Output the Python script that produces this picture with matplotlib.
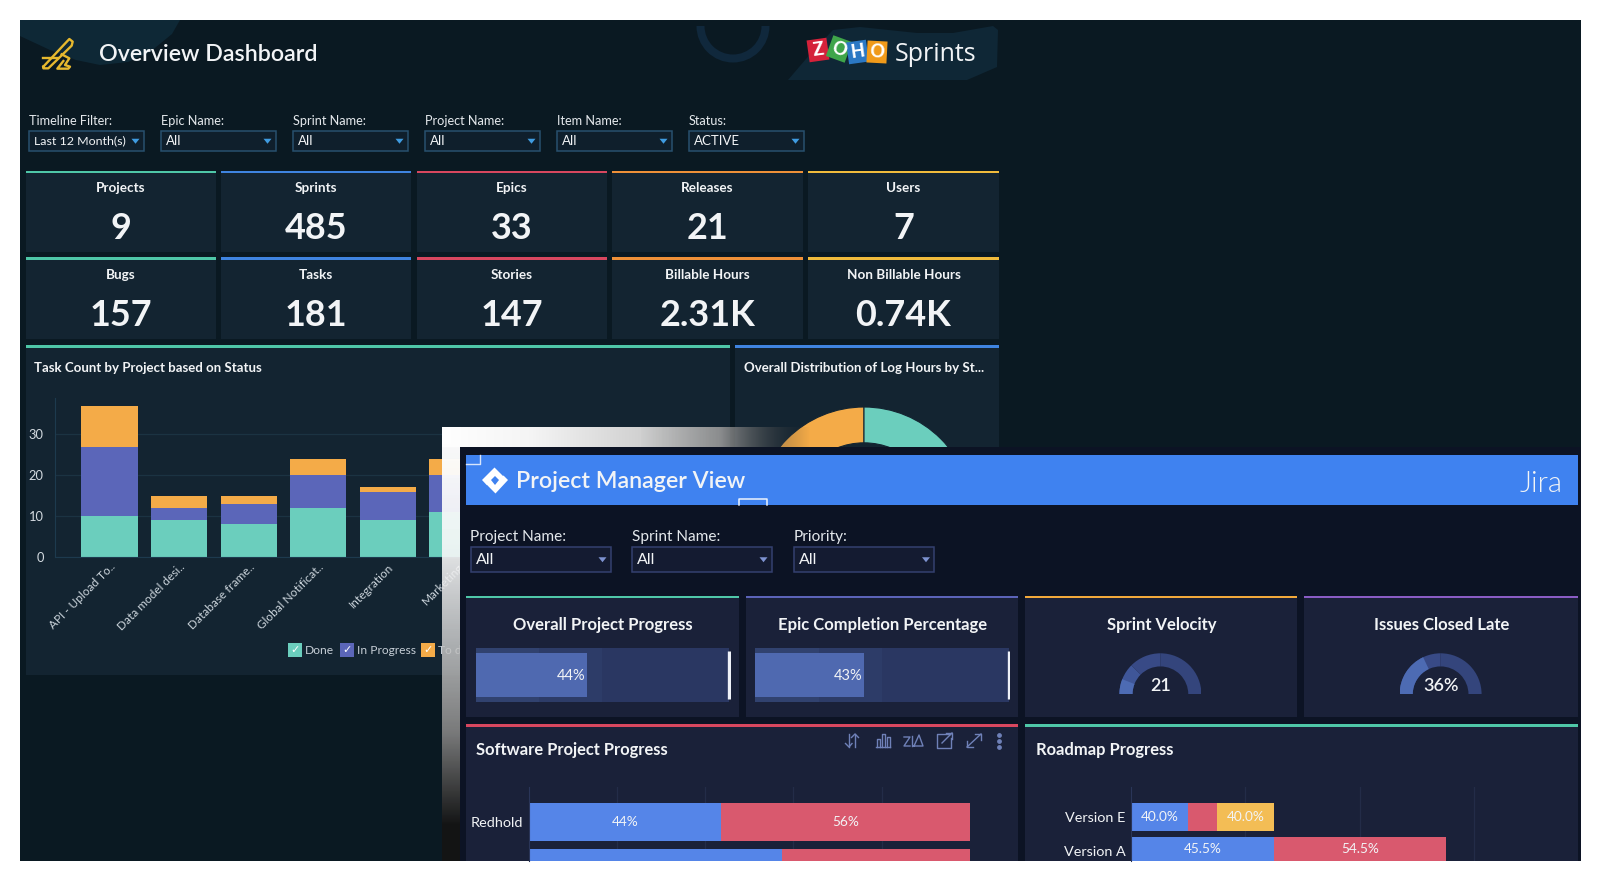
"""Zoho Sprints / Jira dashboard composite, pixel layout on a 1600x882 canvas."""

import numpy as np
import matplotlib
matplotlib.use('Agg')
import matplotlib.pyplot as plt
from matplotlib.patches import Rectangle, Polygon, Wedge

plt.rcParams['font.family'] = ['Lato', 'DejaVu Sans']

W, H = 1600, 882

# --- data ---
kpi_top = ['Projects', 'Sprints', 'Epics', 'Releases', 'Users']
kpi_top_values = ['9', '485', '33', '21', '7']
kpi_bottom = ['Bugs', 'Tasks', 'Stories', 'Billable Hours', 'Non Billable Hours']
kpi_bottom_values = ['157', '181', '147', '2.31K', '0.74K']

filter_names = ['Timeline Filter:', 'Epic Name:', 'Sprint Name:', 'Project Name:', 'Item Name:', 'Status:']
filter_values = ['Last 12 Month(s)', 'All', 'All', 'All', 'All', 'ACTIVE']

task_projects = ['API - Upload To..', 'Data model desi..', 'Database frame..',
                 'Global Notificat..', 'Integration', 'Marketing']
task_done = [10, 9, 8, 12, 9, 11]
task_progress = [17, 3, 5, 8, 7, 9]
task_todo = [10, 3, 2, 4, 1, 4]
task_legend = ['Done', 'In Progress', 'To do']

log_hours_share = [50, 50]

pm_filter_names = ['Project Name:', 'Sprint Name:', 'Priority:']
pm_filter_values = ['All', 'All', 'All']

bullet_titles = ['Overall Project Progress', 'Epic Completion Percentage']
bullet_values = [44, 43]
bullet_bands = [25, 25, 50]

gauge_titles = ['Sprint Velocity', 'Issues Closed Late']
gauge_labels = ['21', '36%']
gauge_fill = [12, 36]

software_projects = ['Redhold', '']
software_done = [43.6, 57.5]
software_left = [56.4, 42.5]
software_done_labels = ['44%', '']
software_left_labels = ['56%', '']

roadmap_versions = ['Version E', 'Version A']
roadmap_blue = [2, 5]
roadmap_red = [1, 6]
roadmap_yellow = [2, 0]
roadmap_blue_labels = ['40.0%', '45.5%']
roadmap_red_labels = ['', '54.5%']
roadmap_yellow_labels = ['40.0%', '']

# --- colours ---
TEAL = '#4fc7a8'
BLUE = '#3f84e0'
RED = '#d8475f'
ORANGE = '#ee9038'
YELLOW = '#f0bb3c'
BG_TOP = '#0a1922'
PANEL_TOP = '#132431'
BG_PM = '#0c1324'
PANEL_PM = '#1a2139'
BAR_TEAL = '#6bcebd'
BAR_INDIGO = '#5b66b9'
BAR_ORANGE = '#f4ab48'
TXT = '#f2f4f6'

fig = plt.figure(figsize=(W / 100, H / 100), dpi=100, facecolor='white')


def canvas(z):
    ax = fig.add_axes([0, 0, 1, 1], zorder=z)
    ax.set_xlim(0, W)
    ax.set_ylim(H, 0)
    ax.axis('off')
    ax.patch.set_alpha(0)
    return ax


def inset(x0, y0, x1, y1, z=3):
    ax = fig.add_axes([x0 / W, 1 - y1 / H, (x1 - x0) / W, (y1 - y0) / H], zorder=z)
    ax.patch.set_alpha(0)
    return ax


def rect(ax, x0, y0, x1, y1, color, **kw):
    ax.add_patch(Rectangle((x0, y0), x1 - x0, y1 - y0, facecolor=color, edgecolor='none', **kw))


def label(ax, x, y, s, px=14, color=TXT, ha='left', weight='normal', **kw):
    ax.text(x, y + 1.5, s, fontsize=px * 0.72, color=color, ha=ha, va='center', fontweight=weight, **kw)


def panel(ax, x0, y0, x1, y1, line, fill):
    rect(ax, x0, y0, x1, y1, fill)
    rect(ax, x0, y0, x1, y0 + 2.6, line)


def dropdown(ax, x0, y0, x1, y1, text, edge, fill, arrow, px):
    ax.add_patch(Rectangle((x0, y0), x1 - x0, y1 - y0, facecolor=fill, edgecolor=edge, linewidth=1.1))
    label(ax, x0 + 5, (y0 + y1) / 2 - 1, text, px=px)
    ax.add_patch(Polygon([(x1 - 12, (y0 + y1) / 2 - 2), (x1 - 4, (y0 + y1) / 2 - 2),
                          (x1 - 8, (y0 + y1) / 2 + 3)], facecolor=arrow))


back = canvas(0)
rect(back, 20, 20, 1581, 861, BG_TOP)

# soft shapes in the header
back.add_patch(Polygon([(20, 20), (180, 20), (172, 34), (150, 52), (128, 62), (100, 65), (76, 60),
                        (50, 50), (20, 36)], facecolor='#0e2836'))
back.add_patch(Polygon([(788, 80), (812, 52), (833, 30), (860, 27), (917, 33), (953, 33), (993, 26),
                        (998, 30), (997, 67), (967, 80)], facecolor='#0f2736'))
back.add_patch(Wedge((733, 26), 36.5, 0, 180, width=8, facecolor='#10283c'))

# plane icon
plane_body = np.array([(40, 125), (118, 42), (128, 50), (125, 62), (55, 130), (40, 130), (40, 125)]) / 3 + (30, 25)
plane_wing = np.array([(40, 100), (85, 100)]) / 3 + (30, 25)
plane_fin = np.array([(95, 88), (118, 100), (105, 120), (120, 125), (115, 131), (82, 131), (100, 108)]) / 3 + (30, 25)
for pts in (plane_body, plane_wing, plane_fin):
    back.plot(pts[:, 0], pts[:, 1], color='#e6b82e', lw=1.7, solid_joinstyle='round')

label(back, 99, 53, 'Overview Dashboard', px=23.3, weight=600)

# Zoho logo blocks
for letter, cx, cy, col, ang in zip('ZOHO', [818, 839, 857.5, 877], [50, 49, 52, 52],
                                    ['#d5213a', '#3fa54a', '#2b78c4', '#f09a1a'], [-8, 20, -8, 3]):
    t = np.deg2rad(ang)
    sq = np.array([(-10, -11), (10, -11), (10, 11), (-10, 11)])
    rot = np.array([[np.cos(t), -np.sin(t)], [np.sin(t), np.cos(t)]])
    back.add_patch(Polygon(sq @ rot.T + (cx, cy), facecolor=col))
    back.text(cx, cy, letter, color='white', fontsize=13, fontweight='black', ha='center', va='center',
              rotation=-ang)
label(back, 895, 53, 'Sprints', px=25, family='Open Sans', weight=500)

# top filters
top_filter_x = [29, 161, 293, 425, 557, 689]
for x, name, val in zip(top_filter_x, filter_names, filter_values):
    label(back, x, 119.5, name, px=12.7, color='#e4e8ec')
    dropdown(back, x, 130.5, x + 114.5, 151, val, '#28506e', '#0f1f2c', '#3f9be0', 12.4 if len(val) > 10 else 13.2)

# KPI tiles
kpi_x = [(25.5, 216), (221, 411), (417, 607), (612, 803), (808, 999)]
kpi_colors = [TEAL, BLUE, RED, ORANGE, YELLOW]
for (y0, y1, names, vals) in [(170.5, 252, kpi_top, kpi_top_values), (257, 339, kpi_bottom, kpi_bottom_values)]:
    for (x0, x1), c, n, v in zip(kpi_x, kpi_colors, names, vals):
        panel(back, x0, y0, x1, y1, c, PANEL_TOP)
        label(back, (x0 + x1) / 2, y0 + 16.5, n, px=13.5, ha='center', weight='bold')
        label(back, (x0 + x1) / 2, y0 + 56.5, v, px=36, ha='center', weight='bold')

# chart panels
panel(back, 25.5, 345, 730, 675, TEAL, PANEL_TOP)
label(back, 34, 366.5, 'Task Count by Project based on Status', px=13.2, weight='bold')
panel(back, 735, 345, 999, 675, BLUE, PANEL_TOP)
label(back, 744, 366.5, 'Overall Distribution of Log Hours by St...', px=13.2, weight='bold')

# stacked bars, behind the overlay card
ax_task = inset(55, 398, 460, 557, z=1)
xpos = np.arange(len(task_projects))
done = np.array(task_done)
prog = np.array(task_progress)
todo = np.array(task_todo)
ax_task.bar(xpos, done, width=0.81, color=BAR_TEAL, zorder=2)
ax_task.bar(xpos, prog, width=0.81, bottom=done, color=BAR_INDIGO, zorder=2)
ax_task.bar(xpos, todo, width=0.81, bottom=done + prog, color=BAR_ORANGE, zorder=2)
ax_task.set_xlim(-0.783, (460 - 55) / 69.6 - 0.783)
ax_task.set_ylim(0, 159 / 4.09)
ax_task.set_yticks([0, 10, 20, 30])
ax_task.set_xticks(xpos)
ax_task.set_xticklabels(task_projects, rotation=45, ha='right', rotation_mode='anchor',
                        fontsize=8.5, color='#ccd5dc')
ax_task.tick_params(axis='y', length=0, labelsize=9.3, labelcolor='#d3dae0', pad=8)
ax_task.tick_params(axis='x', length=0, pad=3)
ax_task.grid(axis='y', color='#1b3342', lw=0.9, zorder=0)
for s in ('top', 'right'):
    ax_task.spines[s].set_visible(False)
ax_task.spines['left'].set_color('#1d3a4e')
ax_task.spines['bottom'].set_color('#1d3a4e')

# legend of the bar chart
legend_base = canvas(1.5)
legend_box_x = [287.7, 339.7, 421]
for x, name, c in zip(legend_box_x, task_legend, [BAR_TEAL, BAR_INDIGO, BAR_ORANGE]):
    rect(legend_base, x, 643, x + 14, 657, c)
    legend_base.text(x + 7, 650, '\u2713', color='white', fontsize=8, ha='center', va='center',
                     family='DejaVu Sans')
    label(legend_base, x + 17, 649.5, name, px=12, color='#c6ced6')

# donut, mostly hidden by the overlay card
ax_pie = inset(755.4, 407, 972.6, 624.2, z=1)
ax_pie.pie(log_hours_share, colors=[BAR_ORANGE, BAR_TEAL], startangle=90, radius=1,
           wedgeprops=dict(width=0.33, edgecolor=PANEL_TOP, linewidth=0.8))
ax_pie.set_xlim(-1, 1)
ax_pie.set_ylim(-1, 1)

# --- overlay card ---
front = canvas(2)
stops = [441.5, 530, 640, 720, 810]
xs = np.linspace(441.5, 841.5, 400)
top_band = np.zeros((1, 400, 4))
top_band[..., :3] = np.interp(xs, stops, [1, 0.96, 0.82, 0.6, 0.15])[None, :, None]
top_band[..., 3] = np.interp(xs, stops, [1, 1, 1, 0.9, 0])[None, :]
front.imshow(top_band, extent=(441.5, 841.5, 447, 427), aspect='auto', zorder=0.5)

ys = np.linspace(427, 861, 400)
ystops = [427, 556, 633, 733, 825]
left_band = np.zeros((400, 1, 4))
left_band[..., :3] = np.interp(ys, ystops, [1, 0.97, 0.82, 0.5, 0.08])[:, None, None]
left_band[..., 3] = np.interp(ys, ystops, [1, 0.9, 0.84, 0.95, 0.95])[:, None]
front.imshow(left_band, extent=(441.5, 460, 861, 427), aspect='auto', zorder=0.5)
front.set_xlim(0, W)
front.set_ylim(H, 0)

rect(front, 460, 447, 1581, 861, BG_PM, zorder=0.6)
rect(front, 465.6, 455, 1577.6, 505, '#3f82f0', zorder=0.7)
front.plot([466, 480, 480], [464, 464, 455], color='white', lw=1, alpha=0.8, zorder=0.8)
front.plot([739, 739, 767, 767], [505, 499, 499, 505], color='white', lw=1.1, alpha=0.9, zorder=0.8)

# Jira mark
front.add_patch(Polygon([(495, 467), (508, 480), (495, 494), (482, 480)], facecolor='white', zorder=2))
front.add_patch(Polygon([(495, 476), (499, 480), (495, 485), (491, 480)], facecolor='#3f82f0', zorder=2.1))
front.plot([495, 503], [467, 475], color='#3f82f0', lw=1, zorder=2.1)
front.plot([487, 495], [486, 494], color='#3f82f0', lw=1, zorder=2.1)
label(front, 516, 480, 'Project Manager View', px=23.3, weight=600)
label(front, 1563, 482, 'Jira', px=29, ha='right', weight=300)

for x, name, val in zip([470.5, 631.5, 794], pm_filter_names, pm_filter_values):
    label(front, x, 535, name, px=15.4, color='#e4e8ec')
    dropdown(front, x, 547, x + 140, 571.5, val, '#34406f', '#141b31', '#7d92d0', 16)

# tiles of the overlay card
pm_x = [(465.6, 739), (745.7, 1018), (1025, 1297), (1303.6, 1577.6)]
pm_colors = [TEAL, '#5b63b8', '#f2a93b', '#8a5cc4']
pm_titles = bullet_titles + gauge_titles
for (x0, x1), c, t in zip(pm_x, pm_colors, pm_titles):
    panel(front, x0, 595.7, x1, 716.7, c, PANEL_PM)
    label(front, (x0 + x1) / 2 + 1, 623.5, t, px=16.6, ha='center', weight='bold')

# bullet bars
band_colors = ['#31426f', '#2d3c68', '#2a3762']
for x0, val in zip([475.5, 755.3], bullet_values):
    ax = inset(x0, 648, x0 + 255, 702)
    left = 0
    for width, c in zip(bullet_bands, band_colors):
        ax.barh(0, width, left=left, height=2, color=c)
        left += width
    ax.barh(0, val, height=1.63, color='#4f69b0')
    ax.plot([100, 100], [-0.89, 0.89], color='#eef1f8', lw=2.4, solid_capstyle='butt')
    ax.text(val - 0.6, -0.03, f'{val}%', color=TXT, fontsize=10.5, ha='right', va='center')
    ax.set_xlim(0, 100.6)
    ax.set_ylim(-1, 1)
    ax.axis('off')

# half gauges
for cx, fill, text in zip([1160.4, 1440.6], gauge_fill, gauge_labels):
    ax = inset(cx - 41, 653.3, cx + 41, 694.3)
    start = 0
    for width, c in zip(bullet_bands, ['#3f5698', '#384a86', '#34457c']):
        ax.add_patch(Wedge((0, 0), 1, 180 - 1.8 * (start + width), 180 - 1.8 * start, width=0.32,
                           facecolor=c))
        start += width
    ax.add_patch(Wedge((0, 0), 1, 180 - 1.8 * fill, 180, width=0.32, facecolor='#4d6bb3'))
    ax.text(0, 0.2, text, color=TXT, fontsize=13, ha='center', va='center', fontweight=600)
    ax.set_xlim(-1, 1)
    ax.set_ylim(0, 1)
    ax.axis('off')

# lower panels
panel(front, 465.6, 724.3, 1018, 861, RED, PANEL_PM)
label(front, 476, 749, 'Software Project Progress', px=16.5, weight='bold')
panel(front, 1025, 724.3, 1577.6, 861, TEAL, PANEL_PM)
label(front, 1036, 749, 'Roadmap Progress', px=16.5, weight='bold')

# toolbar icons
ICON = '#6f81b8'
tb = [
    [(849, 734), (849, 747)], [(845.5, 743.5), (849, 747), (852, 743.5)],
    [(855, 734), (855, 747)], [(851.5, 737.5), (855, 734), (858.5, 737.5)],
    [(876, 747), (890, 747)], [(877, 747), (877, 739), (880, 739), (880, 747)],
    [(882, 747), (882, 734), (885, 734), (885, 747)], [(887, 747), (887, 737), (890, 737), (890, 747)],
    [(904, 737), (910, 737), (904, 746), (910, 746)], [(912, 736), (912, 746)],
    [(914, 746), (919, 735), (923, 746), (914, 746)],
    [(950, 734), (937, 734), (937, 748), (951, 748), (951, 738)], [(942, 743), (952, 733)],
    [(945.5, 733), (952, 733), (952, 739)],
    [(967, 747), (981, 734)], [(967, 741), (967, 747), (973, 747)], [(975, 734), (981, 734), (981, 740)],
]
for seg in tb:
    pts = np.array(seg)
    front.plot(pts[:, 0], pts[:, 1], color=ICON, lw=1, zorder=2.5)
front.scatter([999, 999, 999], [735, 741, 747], s=6, color=ICON, zorder=2.5)

# software project bars
ax_soft = inset(528.7, 786.7, 1018, 861)
y_soft = np.arange(len(software_projects))
b1 = ax_soft.barh(y_soft, software_done, height=0.82, color='#5585e8', zorder=2)
b2 = ax_soft.barh(y_soft, software_left, left=software_done, height=0.82, color='#d9596e', zorder=2)
ax_soft.bar_label(b1, labels=software_done_labels, label_type='center', color=TXT, fontsize=9.8)
ax_soft.bar_label(b2, labels=software_left_labels, label_type='center', color=TXT, fontsize=9.8)
ax_soft.set_xticks([20, 40, 60, 80])
ax_soft.set_xticklabels([])
ax_soft.set_yticks(y_soft)
ax_soft.set_yticklabels(software_projects, fontsize=10.4, color=TXT)
ax_soft.set_xlim(0, (1018 - 528.7) / 4.41)
ax_soft.set_ylim(0.84, -0.754)

# roadmap bars
ax_road = inset(1130.9, 786.7, 1577, 861)
y_road = np.arange(len(roadmap_versions))
blue = np.array(roadmap_blue)
red = np.array(roadmap_red)
r1 = ax_road.barh(y_road, blue, height=0.82, color='#5585e8', zorder=2)
r2 = ax_road.barh(y_road, red, left=blue, height=0.82, color='#d9596e', zorder=2)
r3 = ax_road.barh(y_road, roadmap_yellow, left=blue + red, height=0.82, color='#f3bd55', zorder=2)
ax_road.bar_label(r1, labels=roadmap_blue_labels, label_type='center', color=TXT, fontsize=9.8)
ax_road.bar_label(r2, labels=roadmap_red_labels, label_type='center', color=TXT, fontsize=9.8)
ax_road.bar_label(r3, labels=roadmap_yellow_labels, label_type='center', color=TXT, fontsize=9.8)
ax_road.set_xticks([4, 8, 12])
ax_road.set_xticklabels([])
ax_road.set_yticks(y_road)
ax_road.set_yticklabels(roadmap_versions, fontsize=10.4, color=TXT)
ax_road.set_xlim(0, (1577 - 1130.9) / 28.6)
ax_road.set_ylim(1.276, -0.871)

for ax in (ax_soft, ax_road):
    ax.grid(axis='x', color='#232c48', lw=0.9, zorder=0)
    ax.tick_params(length=0, pad=4)
    for s in ('top', 'right', 'bottom'):
        ax.spines[s].set_visible(False)
    ax.spines['left'].set_color('#2a3558')

fig.savefig('out.png', dpi=100, facecolor='white')
